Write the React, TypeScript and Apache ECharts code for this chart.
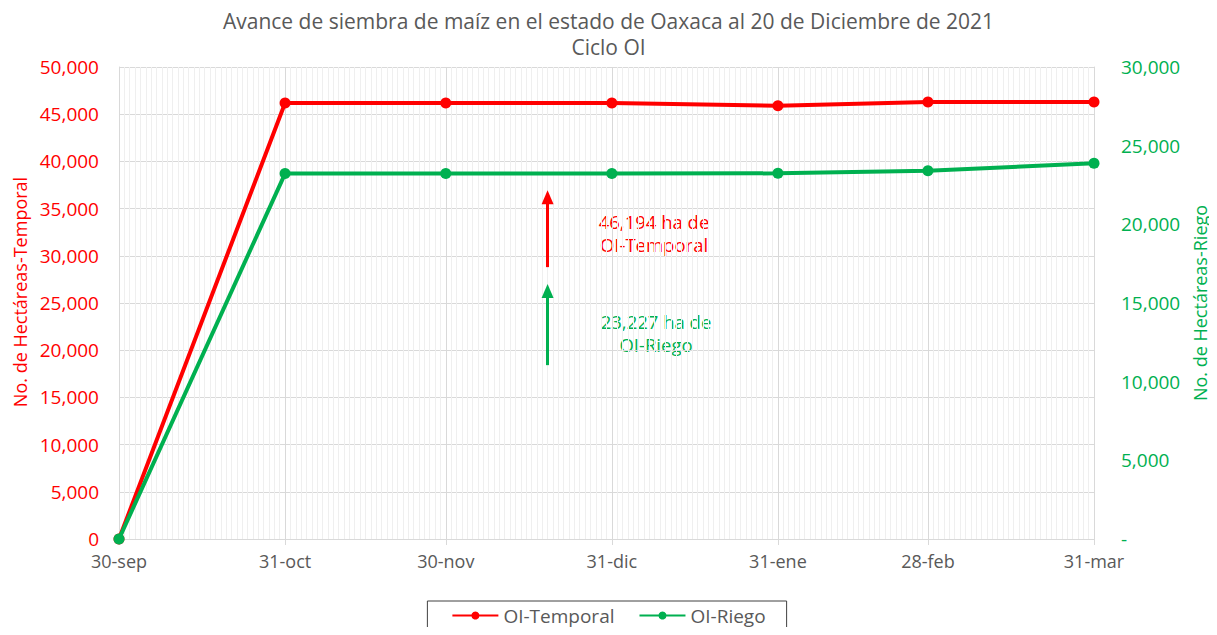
import React, { useEffect, useRef } from "react";
import * as echarts from "echarts";

const monthEndLabels = ["30-sep", "31-oct", "30-nov", "31-dic", "31-ene", "28-feb", "31-mar"];
const daysBetween = [31, 30, 31, 31, 28, 31];
const temporal = [0, 46194, 46194, 46194, 45900, 46300, 46300];
const riego = [0, 23227, 23227, 23227, 23240, 23410, 23880];
const seriesNames = ["OI-Temporal", "OI-Riego"];
const titleText = "Avance de siembra de maíz en el estado de Oaxaca al 20 de Diciembre de 2021\nCiclo OI";
const leftAxisName = "No. de Hectáreas-Temporal";
const rightAxisName = "No. de Hectáreas-Riego";
const noteTemporal = ["46,194 ha de", "OI-Temporal"];
const noteRiego = ["23,227 ha de", "OI-Riego"];
// arrow positions in data space: day offset from 30-sep, [from, to] values
const arrowDay = 80;
const arrowTemporal = [28800, 36200];
const arrowRiego = [11050, 15770];

const RED = "#ff0000";
const GREEN = "#00b050";
const GRAY = "#595959";
const FONT = "'Open Sans', sans-serif";

// build daily categories
const monthEndIdx: number[] = [0];
daysBetween.forEach((d, i) => monthEndIdx.push(monthEndIdx[i] + d));
const totalDays = monthEndIdx[monthEndIdx.length - 1];
const categories: string[] = [];
for (let i = 0; i <= totalDays; i++) {
  const k = monthEndIdx.indexOf(i);
  categories.push(k >= 0 ? monthEndLabels[k] : "d" + i);
}
const isMonthEnd = (i: number) => monthEndIdx.indexOf(i) >= 0;

const fmt = (v: number) => v.toLocaleString("en-US");

export default function App() {
  const ref = useRef<HTMLDivElement>(null);
  useEffect(() => {
    const chart = echarts.init(ref.current!, undefined, { renderer: "svg" });
    const arrowLine = (vals: number[]) => [
      [
        { coord: [categories[arrowDay], vals[0]], symbol: "none" },
        { coord: [categories[arrowDay], vals[1]], symbol: "triangle" },
      ],
    ];
    const noteText = (lines: string[], x: number, y: number, color: string) =>
      lines.map((t, i) => ({
        type: "text",
        x,
        y: y + i * 23,
        style: {
          text: t,
          fill: color,
          font: `18.5px ${FONT}`,
          textAlign: "center",
          textVerticalAlign: "middle",
        },
      }));
    chart.setOption({
      animation: false,
      title: {
        text: titleText,
        left: "center",
        top: 3,
        textStyle: { color: GRAY, fontSize: 21, fontWeight: "normal", fontFamily: FONT, lineHeight: 26 },
      },
      grid: { left: 119, right: 123, top: 67, bottom: 96, outerBoundsMode: "none", containLabel: false },
      legend: {
        top: 601,
        left: "center",
        data: seriesNames,
        itemWidth: 46,
        itemHeight: 10,
        itemGap: 24,
        borderColor: "#404040",
        borderWidth: 1,
        borderRadius: 0,
        padding: [5, 21, 12, 24],
        textStyle: { color: GRAY, fontSize: 19, fontFamily: FONT },
      },
      xAxis: [
        {
          type: "category",
          data: categories,
          boundaryGap: false,
          axisLine: { show: true, lineStyle: { color: "#d9d9d9" } },
          axisTick: {
            show: true,
            length: 6,
            interval: (i: number) => isMonthEnd(i),
            lineStyle: { color: "#d9d9d9" },
          },
          axisLabel: {
            interval: (i: number) => isMonthEnd(i),
            color: GRAY,
            fontSize: 18,
            fontFamily: FONT,
            margin: 13,
          },
          splitLine: { show: true, interval: 0, lineStyle: { color: "#efefef", width: 1 } },
        },
        {
          type: "category",
          data: categories,
          boundaryGap: false,
          position: "bottom",
          axisLine: { show: false },
          axisTick: { show: false },
          axisLabel: { show: false },
          splitLine: {
            show: true,
            interval: (i: number) => isMonthEnd(i),
            lineStyle: { color: "#d9d9d9", width: 1 },
          },
        },
      ],
      yAxis: [
        {
          type: "value",
          min: 0,
          max: 50000,
          interval: 5000,
          name: leftAxisName,
          nameLocation: "middle",
          nameRotate: 90,
          nameGap: 88,
          nameTextStyle: { color: RED, fontSize: 18, fontFamily: FONT, padding: [0, 0, 0, 22] },
          axisLine: { show: true, lineStyle: { color: "#d9d9d9" } },
          axisTick: { show: false },
          axisLabel: { color: RED, fontSize: 19, fontFamily: FONT, margin: 20, formatter: (v: number) => fmt(v) },
          splitLine: { show: true, lineStyle: { color: "#d9d9d9" } },
        },
        {
          type: "value",
          min: 0,
          max: 30000,
          interval: 5000,
          position: "right",
          name: rightAxisName,
          nameLocation: "middle",
          nameRotate: 90,
          nameGap: 96,
          nameTextStyle: { color: GREEN, fontSize: 18, fontFamily: FONT },
          axisLine: { show: true, lineStyle: { color: "#d9d9d9" } },
          axisTick: { show: false },
          axisLabel: {
            color: GREEN,
            fontSize: 19,
            fontFamily: FONT,
            margin: 27,
            formatter: (v: number) => (v === 0 ? "-" : fmt(v)),
          },
          splitLine: { show: false },
        },
      ],
      series: [
        {
          name: seriesNames[0],
          type: "line",
          xAxisIndex: 0,
          yAxisIndex: 0,
          data: temporal.map((v, i) => [monthEndLabels[i], v]),
          symbol: "circle",
          symbolSize: 11,
          lineStyle: { color: RED, width: 4 },
          itemStyle: { color: RED },
          z: 3,
          markLine: {
            silent: true,
            symbolSize: [12, 14],
            lineStyle: { color: RED, width: 3, type: "solid" },
            label: { show: false },
            data: arrowLine(arrowTemporal),
          },
        },
        {
          name: seriesNames[1],
          type: "line",
          xAxisIndex: 0,
          yAxisIndex: 1,
          data: riego.map((v, i) => [monthEndLabels[i], v]),
          symbol: "circle",
          symbolSize: 11,
          lineStyle: { color: GREEN, width: 4 },
          itemStyle: { color: GREEN },
          z: 4,
          markLine: {
            silent: true,
            symbolSize: [12, 14],
            lineStyle: { color: GREEN, width: 3, type: "solid" },
            label: { show: false },
            data: arrowLine(arrowRiego),
          },
        },
      ],
      graphic: [
        ...noteText(noteTemporal, 654, 221, RED),
        ...noteText(noteRiego, 656, 321, GREEN),
      ],
    });
    return () => chart.dispose();
  }, []);
  return <div ref={ref} style={{ width: 1217, height: 635, margin: -8 }} />;
}
